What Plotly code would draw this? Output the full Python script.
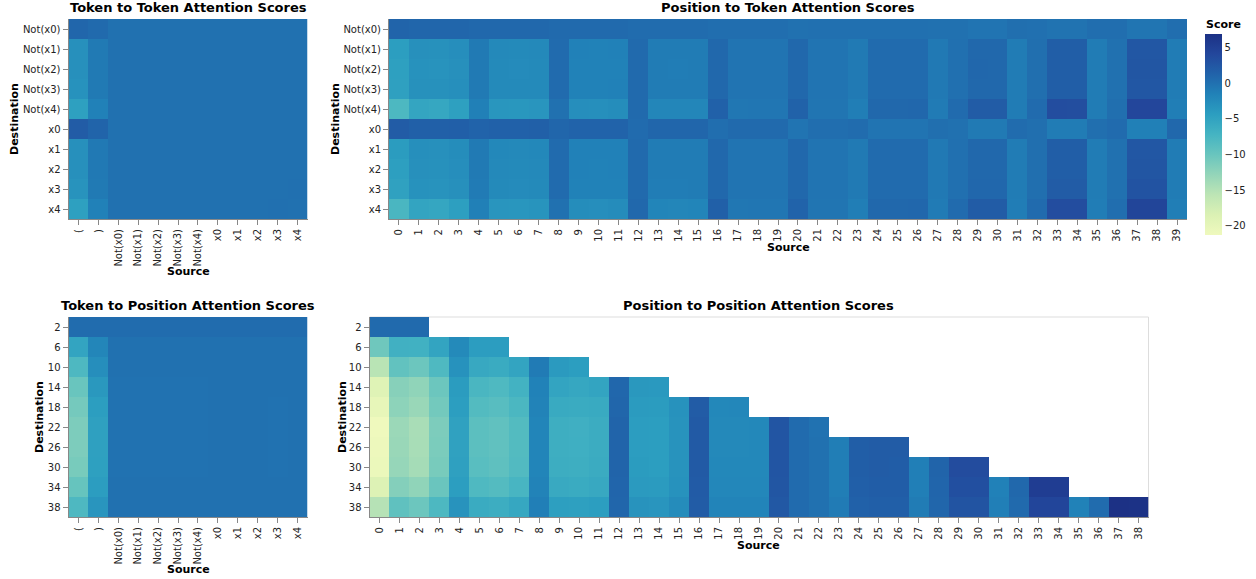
import numpy as np
import plotly.graph_objects as go

# ---- categories ----
tokens = ["(", ")", "Not(x0)", "Not(x1)", "Not(x2)", "Not(x3)", "Not(x4)",
          "x0", "x1", "x2", "x3", "x4"]
token_rows = ["Not(x0)", "Not(x1)", "Not(x2)", "Not(x3)", "Not(x4)",
              "x0", "x1", "x2", "x3", "x4"]
positions = [str(i) for i in range(40)]
dest_positions = ["2", "6", "10", "14", "18", "22", "26", "30", "34", "38"]
src_positions = [str(i) for i in range(39)]

# ---- Token to Token scores (rows: destination tokens, cols: source tokens) ----
tok_tok_not_x0 = [1.0, 0.6, 0.0, 0.0, 0.0, 0.0, 0.0, 0.0, 0.0, 0.0, 0.0, 0.0]
tok_tok_not_x1 = [-3.0, -0.8, 0.0, 0.0, 0.0, 0.0, 0.0, 0.0, 0.0, 0.0, 0.0, 0.0]
tok_tok_not_x2 = [-3.0, -0.8, 0.0, 0.0, 0.0, 0.0, 0.0, 0.0, 0.0, 0.0, 0.0, 0.0]
tok_tok_not_x3 = [-3.2, -0.8, 0.0, 0.0, 0.0, 0.0, 0.0, 0.0, 0.0, 0.0, 0.0, 0.0]
tok_tok_not_x4 = [-4.6, -1.5, 0.0, 0.0, 0.0, 0.0, 0.0, 0.0, 0.0, 0.0, 0.0, 0.0]
tok_tok_x0 = [2.0, 1.2, 0.0, 0.0, 0.0, 0.0, 0.0, 0.0, 0.0, 0.0, 0.0, 0.0]
tok_tok_x1 = [-3.0, -0.7, 0.0, 0.0, 0.0, 0.0, 0.0, 0.0, 0.0, 0.0, 0.0, 0.0]
tok_tok_x2 = [-3.0, -0.7, 0.0, 0.0, 0.0, 0.0, 0.0, 0.0, 0.0, 0.0, 0.0, 0.0]
tok_tok_x3 = [-3.3, -0.8, 0.0, 0.0, 0.0, 0.0, 0.0, 0.0, 0.0, 0.0, 0.0, 0.1]
tok_tok_x4 = [-4.6, -1.5, 0.0, 0.0, 0.0, 0.0, 0.0, 0.0, 0.0, 0.0, 0.1, 0.0]

# ---- Position to Token scores (rows: destination tokens, cols: source positions 0..39) ----
pos_tok_not_x0 = [1.2, 1.0, 1.0, 1.0, 0.8, 0.8, 0.8, 0.8, 0.6, 0.6, 0.6, 0.6, 0.4, 0.4, 0.4, 0.4,
                  0.3, 0.3, 0.3, 0.3, 0.0, 0.1, 0.1, 0.1, 0.1, 0.1, 0.1, 0.0, 0.0, -0.3, -0.3, 0.2,
                  0.1, -0.2, -0.2, 0.3, 0.3, -0.4, -0.4, 0.3]
pos_tok_not_x1 = [-4.4, -3.0, -3.1, -2.8, -0.8, -2.3, -2.4, -2.3, 0.5, -1.5, -1.6, -1.5, 0.6, -1.0, -1.0, -1.0,
                  0.8, -0.3, -0.3, -0.3, 0.8, -0.3, -0.3, -0.8, 0.5, 0.5, 0.5, -0.7, 0.1, 0.8, 0.8, -1.0,
                  0.2, 1.8, 1.8, -1.0, 0.0, 2.5, 2.5, -1.0]
pos_tok_not_x2 = [-4.6, -3.2, -3.3, -3.0, -0.8, -2.4, -2.5, -2.4, 0.5, -1.6, -1.6, -1.6, 0.6, -1.0, -1.1, -1.0,
                  0.8, -0.3, -0.3, -0.3, 0.8, -0.3, -0.3, -0.8, 0.5, 0.5, 0.5, -0.7, 0.1, 0.9, 0.8, -1.0,
                  0.2, 1.8, 1.8, -1.0, 0.0, 2.6, 2.6, -1.0]
pos_tok_not_x3 = [-4.7, -3.1, -3.1, -2.9, -0.8, -2.4, -2.4, -2.4, 0.5, -1.6, -1.6, -1.5, 0.6, -1.0, -1.0, -1.0,
                  0.8, -0.3, -0.3, -0.3, 0.8, -0.3, -0.3, -0.8, 0.5, 0.5, 0.5, -0.7, 0.1, 0.8, 0.8, -1.0,
                  0.2, 1.8, 1.8, -1.0, 0.0, 2.5, 2.5, -1.0]
pos_tok_not_x4 = [-7.8, -5.3, -5.5, -4.6, -1.4, -3.6, -3.7, -3.5, 0.0, -2.8, -2.9, -2.7, 0.6, -2.0, -2.0, -2.0,
                  1.5, -0.6, -0.5, -0.5, 1.4, -0.4, -0.4, -1.2, 0.8, 0.8, 0.9, -0.9, 0.5, 2.0, 2.0, -1.0,
                  0.5, 3.5, 3.4, -1.0, 0.2, 4.2, 4.2, -1.2]
pos_tok_x0 = [2.0, 1.6, 1.6, 1.7, 1.3, 1.5, 1.5, 1.6, 1.0, 1.3, 1.3, 1.3, 0.5, 1.0, 1.0, 1.0,
              0.3, 0.6, 0.6, 0.6, -0.3, 0.3, 0.3, 0.4, -0.3, -0.3, -0.3, 0.2, 0.0, -0.8, -0.8, 0.4,
              0.2, -1.0, -1.0, 0.2, 0.5, -1.4, -1.4, 0.8]
pos_tok_x1 = [-4.2, -2.9, -3.0, -2.7, -0.8, -2.2, -2.3, -2.2, 0.5, -1.5, -1.5, -1.5, 0.6, -1.0, -1.0, -1.0,
              0.8, -0.3, -0.3, -0.3, 0.8, -0.3, -0.3, -0.8, 0.5, 0.5, 0.5, -0.7, 0.1, 0.8, 0.8, -1.0,
              0.2, 1.8, 1.8, -1.0, 0.0, 2.5, 2.5, -1.0]
pos_tok_x2 = [-4.5, -3.0, -3.1, -2.8, -0.8, -2.3, -2.4, -2.3, 0.5, -1.5, -1.6, -1.5, 0.6, -1.0, -1.0, -1.0,
              0.8, -0.3, -0.3, -0.3, 0.8, -0.3, -0.3, -0.8, 0.5, 0.5, 0.5, -0.7, 0.1, 0.8, 0.8, -1.0,
              0.2, 1.8, 1.8, -1.0, 0.0, 2.6, 2.6, -1.0]
pos_tok_x3 = [-4.8, -3.2, -3.3, -3.0, -0.9, -2.4, -2.5, -2.4, 0.5, -1.6, -1.6, -1.6, 0.6, -1.1, -1.1, -1.0,
              0.8, -0.3, -0.3, -0.3, 0.8, -0.3, -0.3, -0.8, 0.5, 0.5, 0.5, -0.7, 0.1, 0.9, 0.9, -1.0,
              0.2, 2.0, 2.0, -1.0, 0.0, 2.9, 2.9, -1.0]
pos_tok_x4 = [-7.6, -5.2, -5.4, -4.5, -1.4, -3.5, -3.6, -3.4, 0.0, -2.7, -2.8, -2.6, 0.8, -1.9, -2.0, -1.9,
              1.6, -0.6, -0.5, -0.5, 1.3, -0.4, -0.4, -1.2, 0.8, 0.8, 0.9, -0.9, 0.5, 2.0, 2.0, -1.1,
              0.5, 3.5, 3.5, -1.1, 0.3, 4.4, 4.4, -1.2]

# ---- Token to Position scores (rows: destination positions, cols: source tokens) ----
tok_pos_2 = [0.4, 0.4, 0.4, 0.4, 0.4, 0.4, 0.4, 0.4, 0.4, 0.4, 0.4, 0.4]
tok_pos_6 = [-5.2, -2.0, 0.0, 0.0, 0.0, 0.0, 0.0, 0.0, 0.0, 0.0, 0.0, 0.0]
tok_pos_10 = [-7.9, -2.8, 0.0, 0.0, 0.0, 0.0, 0.0, 0.0, 0.0, 0.0, 0.0, 0.0]
tok_pos_14 = [-10.0, -3.8, -0.1, -0.1, -0.1, -0.1, -0.1, 0.0, 0.0, 0.0, 0.0, 0.0]
tok_pos_18 = [-10.8, -4.4, -0.1, -0.1, -0.1, -0.1, -0.1, 0.0, 0.0, 0.0, -0.1, 0.0]
tok_pos_22 = [-11.3, -4.7, -0.1, -0.1, -0.1, -0.1, -0.1, 0.0, 0.0, 0.0, -0.1, 0.0]
tok_pos_26 = [-11.3, -4.7, -0.1, -0.1, -0.1, -0.1, -0.1, 0.0, 0.0, 0.0, -0.1, 0.0]
tok_pos_30 = [-11.0, -4.6, -0.1, -0.1, -0.1, -0.1, -0.1, 0.0, 0.0, 0.0, -0.1, 0.0]
tok_pos_34 = [-9.8, -4.3, 0.0, 0.0, 0.0, 0.0, 0.0, 0.0, 0.0, 0.0, 0.0, 0.0]
tok_pos_38 = [-7.9, -3.5, 0.0, 0.0, 0.0, 0.0, 0.0, 0.0, 0.0, 0.0, 0.0, 0.0]

# ---- Position to Position scores (causal: source <= destination) ----
pos_pos_2 = [0.6, 0.6, 0.6]
pos_pos_6 = [-10.4, -6.7, -6.8, -5.2, -2.4, -4.3, -4.3]
pos_pos_10 = [-15.4, -9.5, -10.2, -8.0, -3.2, -5.7, -6.0, -5.2, -0.9, -4.0, -4.4]
pos_pos_14 = [-19.1, -12.0, -12.6, -10.2, -4.2, -7.6, -8.0, -7.0, -1.6, -5.2, -5.5, -5.2, 0.9, -3.8, -3.9]
pos_pos_18 = [-20.2, -12.4, -13.2, -10.7, -4.4, -8.3, -8.7, -7.7, -1.7, -5.9, -6.0, -5.9, 1.0, -4.1, -4.2,
              -3.2, 2.0, -2.2, -2.1]
pos_pos_22 = [-21.3, -13.3, -14.3, -11.3, -4.8, -9.0, -9.4, -8.3, -1.9, -6.4, -6.6, -6.2, 1.2, -4.3, -4.4,
              -3.3, 2.2, -2.3, -2.3, -2.2, 2.7, 0.5, -0.1]
pos_pos_26 = [-21.0, -13.2, -14.2, -11.2, -4.8, -9.0, -9.4, -8.3, -1.9, -6.4, -6.5, -6.2, 1.2, -4.3, -4.4,
              -3.3, 2.2, -2.3, -2.3, -2.2, 2.7, 0.5, 0.0, -1.2, 1.8, 2.0, 2.0]
pos_pos_30 = [-20.8, -13.0, -14.0, -11.0, -4.7, -8.8, -9.2, -8.2, -1.9, -6.3, -6.4, -6.1, 1.2, -4.2, -4.4,
              -3.3, 2.2, -2.2, -2.2, -2.2, 2.7, 0.5, 0.0, -1.2, 1.8, 2.0, 1.9, -1.3, 1.2, 3.6, 3.6]
pos_pos_34 = [-18.7, -11.8, -12.6, -10.1, -4.4, -8.0, -8.4, -7.4, -1.7, -5.8, -6.0, -5.7, 1.1, -4.0, -4.1,
              -3.2, 2.1, -2.1, -2.1, -2.1, 2.6, 0.5, 0.0, -1.2, 1.7, 1.9, 1.9, -1.3, 1.1, 3.3, 3.3,
              -1.5, 0.8, 5.3, 5.3]
pos_pos_38 = [-15.2, -9.3, -10.2, -7.8, -3.3, -6.0, -6.3, -5.5, -1.3, -4.5, -4.6, -4.4, 1.0, -3.3, -3.5,
              -2.6, 2.0, -1.8, -1.8, -1.8, 2.4, 0.5, 0.0, -0.9, 1.5, 1.7, 1.7, -1.0, 1.0, 2.8, 2.8,
              -1.3, 0.6, 4.3, 4.3, -1.6, 0.4, 6.9, 6.8]

tok_tok = [tok_tok_not_x0, tok_tok_not_x1, tok_tok_not_x2, tok_tok_not_x3, tok_tok_not_x4,
           tok_tok_x0, tok_tok_x1, tok_tok_x2, tok_tok_x3, tok_tok_x4]
pos_tok = [pos_tok_not_x0, pos_tok_not_x1, pos_tok_not_x2, pos_tok_not_x3, pos_tok_not_x4,
           pos_tok_x0, pos_tok_x1, pos_tok_x2, pos_tok_x3, pos_tok_x4]
tok_pos = [tok_pos_2, tok_pos_6, tok_pos_10, tok_pos_14, tok_pos_18,
           tok_pos_22, tok_pos_26, tok_pos_30, tok_pos_34, tok_pos_38]
pos_pos_rows = [pos_pos_2, pos_pos_6, pos_pos_10, pos_pos_14, pos_pos_18,
                pos_pos_22, pos_pos_26, pos_pos_30, pos_pos_34, pos_pos_38]
# pad the causal rows with gaps so every row spans all source positions
pos_pos = [row + [None] * (len(src_positions) - len(row)) for row in pos_pos_rows]

all_vals = np.concatenate([np.ravel(tok_tok), np.ravel(pos_tok), np.ravel(tok_pos),
                           np.concatenate([np.array(r, float) for r in pos_pos_rows])])
zmin, zmax = float(all_vals.min()), float(all_vals.max())

# Yellow-green-blue ramp
ygb = ["#eff9bd", "#dbf1b4", "#bde5b5", "#94d5b9", "#69c5be", "#45b4c2",
       "#2c9ec0", "#2182b8", "#2163aa", "#23479c", "#1c3185"]
colorscale = [[i / (len(ygb) - 1), c] for i, c in enumerate(ygb)]

W, H = 1256, 579
FONT = "DejaVu Sans"


def fx(px):
    return px / W


def fy(py):
    return 1 - py / H


# plot boxes in pixels: (left, right, top, bottom)
boxes = {
    "": (68.5, 307.5, 19, 219),
    "2": (389, 1187, 19, 219),
    "3": (68.5, 307.5, 317, 517),
    "4": (369.5, 1148.5, 317, 517),
}

fig = go.Figure()
traces = [
    ("", tokens, token_rows, tok_tok),
    ("2", positions, token_rows, pos_tok),
    ("3", tokens, dest_positions, tok_pos),
    ("4", src_positions, dest_positions, pos_pos),
]
for suffix, xs, ys, z in traces:
    fig.add_trace(go.Heatmap(
        x=xs, y=ys, z=z, coloraxis="coloraxis",
        xaxis="x" + suffix, yaxis="y" + suffix,
        hoverongaps=False,
    ))

axis_common = dict(
    type="category", showgrid=False, zeroline=False,
    showline=True, linecolor="#888", linewidth=1,
    ticks="outside", ticklen=5, tickcolor="#888", tickwidth=1,
    tickfont=dict(family=FONT, size=10, color="#222"),
    fixedrange=True,
)
layout_axes = {}
for suffix, (l, r, t, b) in boxes.items():
    xname = "xaxis" + suffix
    yname = "yaxis" + suffix
    layout_axes[xname] = dict(axis_common, domain=[fx(l), fx(r)],
                              anchor="y" + suffix, tickangle=-90)
    layout_axes[yname] = dict(axis_common, domain=[fy(b), fy(t)],
                              anchor="x" + suffix, autorange="reversed")

fig.update_layout(**layout_axes)

# light frame around the position-to-position view (visible where cells are empty)
l, r, t, b = boxes["4"]
fig.add_shape(type="rect", xref="paper", yref="paper",
              x0=fx(l), x1=fx(r), y0=fy(b), y1=fy(t),
              line=dict(color="#ddd", width=1), layer="below")

annotations = []
titles = [
    ("Token to Token Attention Scores", 188, 8),
    ("Position to Token Attention Scores", 788, 8),
    ("Token to Position Attention Scores", 188, 305),
    ("Position to Position Attention Scores", 759, 305),
]
for text, cx, cy in titles:
    annotations.append(dict(text="<b>%s</b>" % text, x=fx(cx), y=fy(cy),
                            xref="paper", yref="paper", showarrow=False,
                            xanchor="center", yanchor="middle",
                            font=dict(family=FONT, size=13, color="#000")))

source_titles = [(188, 271), (788, 247), (188, 569), (759, 545)]
for cx, cy in source_titles:
    annotations.append(dict(text="<b>Source</b>", x=fx(cx), y=fy(cy),
                            xref="paper", yref="paper", showarrow=False,
                            xanchor="center", yanchor="middle",
                            font=dict(family=FONT, size=11, color="#000")))

dest_titles = [(14, 119), (335, 119), (39, 417), (342, 417)]
for cx, cy in dest_titles:
    annotations.append(dict(text="<b>Destination</b>", x=fx(cx), y=fy(cy),
                            xref="paper", yref="paper", showarrow=False,
                            xanchor="center", yanchor="middle", textangle=-90,
                            font=dict(family=FONT, size=11, color="#000")))

# legend title above the gradient bar
annotations.append(dict(text="<b>Score</b>", x=fx(1204), y=fy(24),
                        xref="paper", yref="paper", showarrow=False,
                        xanchor="left", yanchor="middle",
                        font=dict(family=FONT, size=11, color="#000")))

fig.update_layout(
    width=W, height=H,
    margin=dict(l=0, r=0, t=0, b=0),
    paper_bgcolor="white", plot_bgcolor="white",
    font=dict(family=FONT, size=10, color="#222"),
    annotations=annotations,
    coloraxis=dict(
        colorscale=colorscale, cmin=zmin, cmax=zmax,
        colorbar=dict(
            x=fx(1205), xanchor="left", xpad=0,
            y=fy(34), yanchor="top", ypad=0,
            len=201 / H, lenmode="fraction",
            thickness=17, thicknessmode="pixels",
            outlinewidth=0,
            tickmode="linear", tick0=0, dtick=5,
            ticks="", ticklen=0,
            tickfont=dict(family=FONT, size=10, color="#222"),
        ),
    ),
)

fig.write_html("out.html")
